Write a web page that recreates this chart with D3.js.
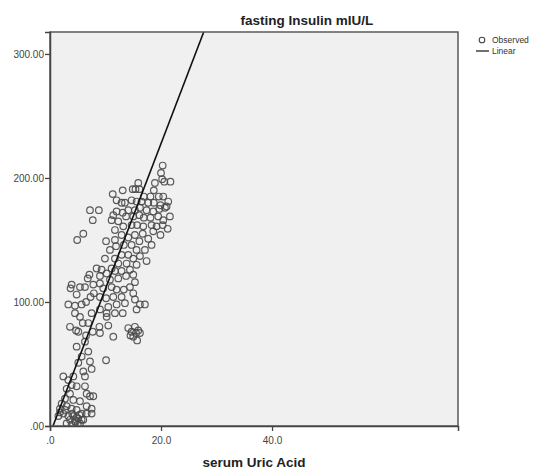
<!DOCTYPE html>
<html><head><meta charset="utf-8">
<script src="https://cdn.jsdelivr.net/npm/d3@7"></script>
<style>body{margin:0;background:#fff}svg{display:block}</style>
</head><body><svg id="c" width="537" height="472"></svg>
<script>
const title = "fasting Insulin mIU/L";
const xTitle = "serum Uric Acid";
const xTicks = [0, 20, 40];
const xTickLabels = [".0", "20.0", "40.0"];
const yTicks = [0, 100, 200, 300];
const yTickLabels = [".00", "100.00", "200.00", "300.00"];
const legendLabels = ["Observed", "Linear"];
const fitIntercept = -6.3, fitSlope = 11.7;
const uricAcid = [
20.3,20.0,20.2,18.9,20.6,21.7,15.9,14.9,15.4,16.1,11.3,13.1,18.7,16.9,18.1,19.6,20.4,
12.0,12.9,13.5,14.7,15.6,16.5,17.7,18.7,19.9,21.0,12.0,11.4,13.1,14.1,15.3,16.2,17.4,18.6,19.7,20.7,21.3,
11.1,12.3,13.7,15.0,16.1,16.9,18.1,19.5,20.4,21.6,11.7,13.2,14.7,15.7,16.8,18.3,19.2,20.3,21.2,19.9,18.6,
10.1,11.7,12.9,14.1,15.3,16.7,17.7,16.1,14.7,13.3,11.9,10.8,15.6,17.1,18.3,17.4,
9.9,11.7,12.9,14.1,15.0,16.2,13.8,12.3,11.1,9.3,8.4,7.1,15.6,
9.0,10.2,11.7,12.9,14.4,15.0,13.7,12.3,10.8,9.0,7.8,6.8,15.3,
5.4,3.9,3.7,4.8,6.3,7.9,9.6,11.1,12.0,13.3,14.4,15.0,12.9,11.4,10.1,9.0,7.3,6.5,
3.3,4.5,5.7,4.5,5.4,7.5,9.0,10.5,12.0,13.5,15.3,16.2,15.6,17.1,13.1,11.7,10.2,
3.6,4.7,5.1,5.9,6.9,8.9,10.5,10.2,6.5,7.7,11.4,9.0,
14.1,14.7,15.3,15.9,15.0,15.7,14.5,16.2,15.5,
4.8,6.3,6.9,5.7,7.2,5.1,6.0,10.1,7.5,6.3,2.4,3.3,4.2,
3.0,3.9,4.8,6.3,6.6,7.2,7.8,3.6,2.7,4.2,5.4,6.6,7.5,2.1,3.0,3.9,4.8,5.7,6.6,7.5,2.4,3.3,4.2,5.1,5.7,3.6,4.5,5.4,3.0,3.9,1.8,2.7,
1.5,1.8,4.6,5.0,4.8,5.3,6.0,4.0,
4.9,6.0,7.2,8.8,7.7
];
const insulin = [
210,204,199,196,197,197,196,191,191,191,187,190,190,185,185,185,185,
182,180,180,182,181,181,180,180,178,177,173,170,172,174,174,176,174,173,175,176,181,
166,165,169,169,170,168,168,169,166,169,158,161,162,162,161,162,161,162,159,154,157,
149,150,154,152,154,155,151,149,146,146,145,142,142,142,146,133,
135,135,138,138,135,137,131,131,127,126,127,122,130,
121,123,125,125,126,122,121,119,118,115,114,119,116,
112,114,111,106,112,107,111,112,110,110,112,107,104,104,103,104,104,100,
98,97,98,91,88,91,94,96,98,99,102,98,94,98,91,91,91,
80,77,76,83,83,80,81,88,73,76,72,75,
79,76,80,77,72,69,73,75,75,
64,68,60,56,52,51,44,53,46,40,40,37,40,
30,33,32,32,26,24,24,26,22,21,20,16,14,18,16,14,13,10,10,10,10,8,8,6,5,5,4,2,2,1,14,13,
8,11,3,1,7,9,5,10,
150,155,174,174,166
];

const svg = d3.select("#c");
const L = 50, R = 458, T = 32, B = 426;
const x = d3.scaleLinear().domain([0, 73.5]).range([L, R]);
const y = d3.scaleLinear().domain([0, 317.7]).range([B, T]);

svg.append("rect").attr("x", L).attr("y", T).attr("width", R - L).attr("height", B - T)
  .attr("fill", "#f0f0f0");

svg.append("defs").append("clipPath").attr("id", "clip")
  .append("rect").attr("x", L).attr("y", T).attr("width", R - L).attr("height", B - T);

const pts = uricAcid.map((u, i) => ({u, v: insulin[i]}));
svg.append("g").attr("clip-path", "url(#clip)").selectAll("circle").data(pts).join("circle")
  .attr("cx", d => x(d.u)).attr("cy", d => y(d.v)).attr("r", 3.3)
  .attr("fill", "none").attr("stroke", "#4a4a4a").attr("stroke-width", 1.2).attr("stroke-opacity", 0.9);

const x0 = -fitIntercept / fitSlope, x1 = (317.7 - fitIntercept) / fitSlope;
svg.append("g").attr("clip-path", "url(#clip)").append("line")
  .attr("x1", x(x0)).attr("y1", y(fitIntercept + fitSlope * x0))
  .attr("x2", x(x1)).attr("y2", y(fitIntercept + fitSlope * x1))
  .attr("stroke", "#111").attr("stroke-width", 1.6);

svg.append("rect").attr("x", L).attr("y", T).attr("width", R - L).attr("height", B - T)
  .attr("fill", "none").attr("stroke", "#5a5a5a").attr("stroke-width", 1.5);

const xAxis = d3.axisBottom(x).tickValues(xTicks).tickSize(5).tickFormat((d, i) => xTickLabels[i]);
const gx = svg.append("g").attr("transform", `translate(0,${B})`).call(xAxis);
gx.select(".domain").attr("stroke", "#444").attr("stroke-width", 1.5);
gx.selectAll(".tick line").attr("stroke", "#444").attr("stroke-width", 1.3);
gx.selectAll("text").attr("font-family", "Arial, Liberation Sans, sans-serif").attr("font-size", 10)
  .attr("fill", "#444").attr("dy", "1.0em");

const yAxis = d3.axisLeft(y).tickValues(yTicks).tickSize(5).tickFormat((d, i) => yTickLabels[i]);
const gy = svg.append("g").attr("transform", `translate(${L},0)`).call(yAxis);
gy.select(".domain").attr("stroke", "#444").attr("stroke-width", 1.5);
gy.selectAll(".tick line").attr("stroke", "#444").attr("stroke-width", 1.3);
gy.selectAll("text").attr("font-family", "Arial, Liberation Sans, sans-serif").attr("font-size", 10)
  .attr("fill", "#444").attr("x", -6);

svg.append("text").attr("x", 307).attr("y", 25).attr("text-anchor", "middle")
  .attr("font-family", "Arial, Liberation Sans, sans-serif").attr("font-weight", "bold")
  .attr("font-size", 13.5).attr("fill", "#222").text(title);

svg.append("text").attr("x", 254).attr("y", 467).attr("text-anchor", "middle")
  .attr("font-family", "Arial, Liberation Sans, sans-serif").attr("font-weight", "bold")
  .attr("font-size", 13.5).attr("fill", "#222").text(xTitle);

const lg = svg.append("g");
lg.append("circle").attr("cx", 482).attr("cy", 40).attr("r", 2.8)
  .attr("fill", "none").attr("stroke", "#444").attr("stroke-width", 1.1);
lg.append("line").attr("x1", 476).attr("x2", 489).attr("y1", 51).attr("y2", 51)
  .attr("stroke", "#222").attr("stroke-width", 1.3);
lg.selectAll("text").data(legendLabels).join("text")
  .attr("x", 492).attr("y", (d, i) => 43 + i * 11)
  .attr("font-family", "Arial, Liberation Sans, sans-serif").attr("font-size", 8.5).attr("fill", "#333")
  .text(d => d);
</script></body></html>
